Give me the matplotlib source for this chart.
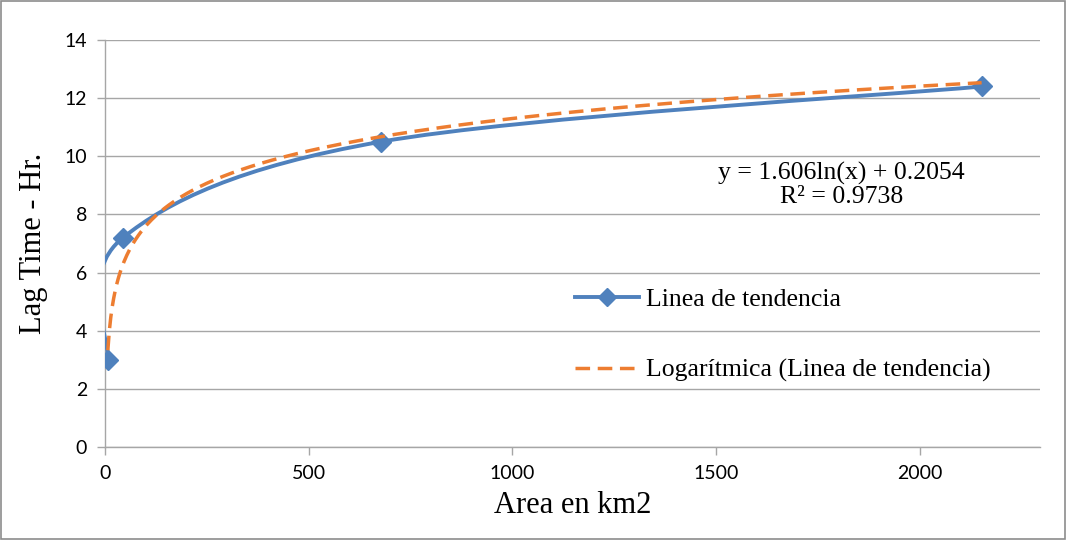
import numpy as np
import matplotlib
matplotlib.use("Agg")
import matplotlib.pyplot as plt
from matplotlib.path import Path
from matplotlib.patches import PathPatch, Rectangle
from matplotlib.lines import Line2D

# data
area = [7, 44, 677, 2152]
lag_time = [3.0, 7.2, 10.5, 12.4]
series_name = "Linea de tendencia"
trend_name = "Logarítmica (Linea de tendencia)"
trend_a = 1.606
trend_b = 0.2054
r2 = 0.9738
x_ticks = [0, 500, 1000, 1500, 2000]
y_ticks = [0, 2, 4, 6, 8, 10, 12, 14]

blue = "#4F81BD"
orange = "#ED7D31"
grid_c = "#A6A6A6"


def smooth_path(xs, ys):
    # Excel style smoothed line: cubic bezier segments through every point
    p = np.column_stack([xs, ys]).astype(float)
    n = len(p)
    verts = [p[0]]
    codes = [Path.MOVETO]
    for i in range(n - 1):
        prev = p[max(i - 1, 0)]
        nxt = p[min(i + 2, n - 1)]
        c1 = p[i] + (p[i + 1] - prev) / 6
        c2 = p[i + 1] - (nxt - p[i]) / 6
        verts += [c1, c2, p[i + 1]]
        codes += [Path.CURVE4] * 3
    return Path(verts, codes)


fig = plt.figure(figsize=(10.66, 5.40), dpi=100)
ax = fig.add_axes([0.0985, 0.172, 0.877, 0.754])

ax.add_patch(PathPatch(smooth_path(area, lag_time), fill=False,
                       edgecolor=blue, lw=2.8, zorder=3, capstyle="butt"))
ax.plot(area, lag_time, ls="none", marker="D", ms=10, color=blue, zorder=4)

xt = np.linspace(min(area), max(area), 600)
ax.plot(xt, trend_a * np.log(xt) + trend_b, color=orange, lw=2.5,
        dashes=(4.2, 2.2), zorder=5)

ax.set_xlim(0, 2295)
ax.set_ylim(0, 14)
ax.set_xticks(x_ticks)
ax.set_yticks(y_ticks)
ax.yaxis.grid(True, color=grid_c, lw=1)
ax.set_axisbelow(True)
for s in ["top", "right"]:
    ax.spines[s].set_visible(False)
for s in ["left", "bottom"]:
    ax.spines[s].set_color(grid_c)
    ax.spines[s].set_linewidth(1)
ax.tick_params(axis="both", color=grid_c, length=6, width=1,
               labelsize=14, pad=7)
for lab in ax.get_xticklabels() + ax.get_yticklabels():
    lab.set_fontfamily("Lato")

ax.set_xlabel("Area en km2", family="Liberation Serif", fontsize=22, labelpad=6)
ax.set_ylabel("Lag Time - Hr.", family="Liberation Serif", fontsize=22, labelpad=12)

ax.text(0.788, 0.644, "y = 1.606ln(x) + 0.2054\nR² = {}".format(r2),
        transform=ax.transAxes, ha="center", va="center",
        family="Liberation Serif", fontsize=18.5, linespacing=1.08)

handles = [Line2D([], [], color=blue, lw=2.8, marker="D", ms=9),
           Line2D([], [], color=orange, lw=2.5, dashes=(4.2, 2.2))]
ax.legend(handles, [series_name, trend_name], loc="center left",
          bbox_to_anchor=(0.503, 0.275), frameon=False, numpoints=1,
          borderpad=0, borderaxespad=0,
          handlelength=2.5, handletextpad=0.25, labelspacing=1.85,
          prop={"family": "Liberation Serif", "size": 18.5})

fig.patches.append(Rectangle((0.001, 0.001), 0.998, 0.997, transform=fig.transFigure,
                             fill=False, edgecolor="#8C8C8C", lw=1.2))

fig.savefig("out.png", dpi=100)
